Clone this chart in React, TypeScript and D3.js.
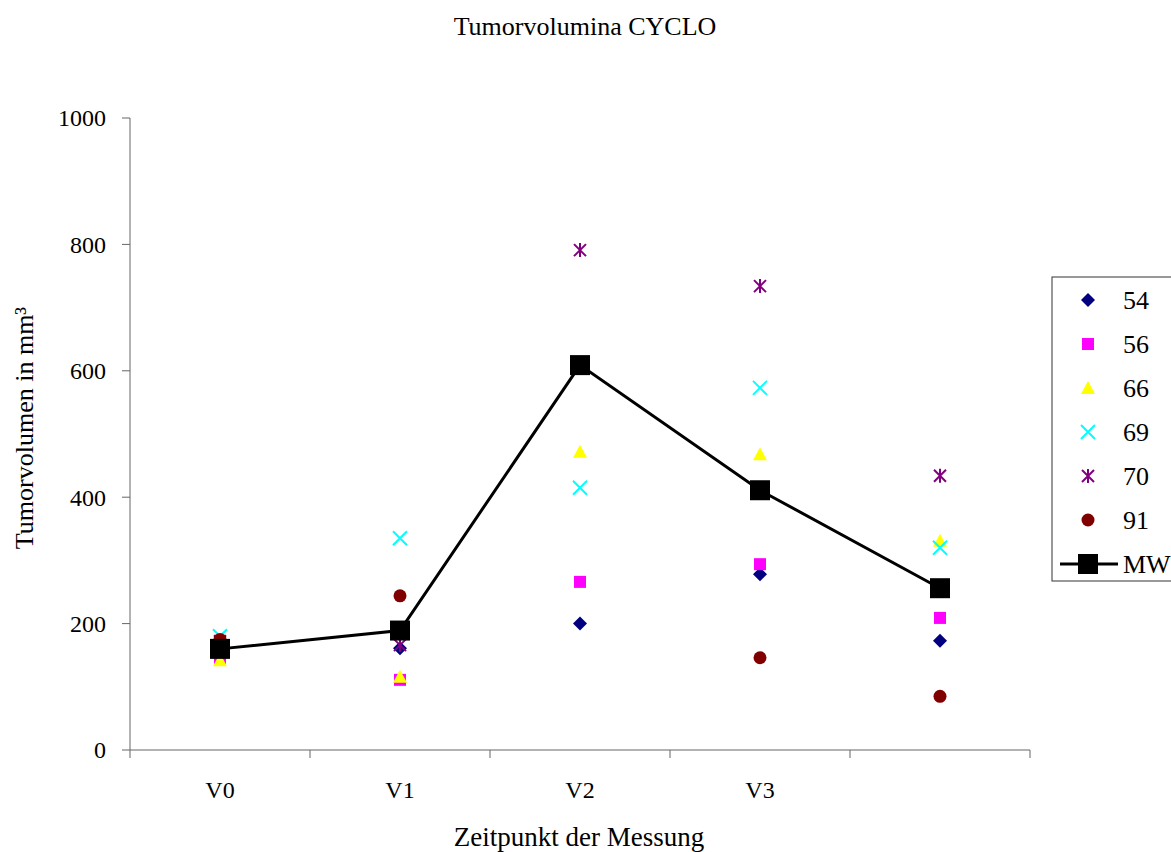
import React from "react";
import * as d3 from "d3";

const categories = ["V0", "V1", "V2", "V3", ""];
const yTicks = [0, 200, 400, 600, 800, 1000];

// single animals (null = no value)
const s54 = [148, 161, 200, 278, 173];
const s56 = [145, 111, 266, 294, 209];
const s66 = [142, 116, 472, 468, 331];
const s69 = [180, 335, 415, 573, 320];
const s70 = [172, 166, 791, 734, 434];
const s91 = [175, 244, null, 146, 85];
const mw = [160, 189, 609, 411, 256];

const series = [
  { name: "54", values: s54, color: "#000080", shape: "diamond" },
  { name: "56", values: s56, color: "#ff00ff", shape: "square" },
  { name: "66", values: s66, color: "#ffff00", shape: "triangle" },
  { name: "69", values: s69, color: "#00ffff", shape: "x" },
  { name: "70", values: s70, color: "#800080", shape: "star" },
  { name: "91", values: s91, color: "#800000", shape: "circle" },
];

const W = 1171, H = 852;
const left = 130, right = 1030, top = 118, bottom = 750;

function Marker({ shape, color, x, y }: { shape: string; color: string; x: number; y: number }) {
  const t = `translate(${x},${y})`;
  if (shape === "diamond") return <path transform={t} d="M0,-7L7,0L0,7L-7,0Z" fill={color} />;
  if (shape === "square") return <rect x={x - 6} y={y - 6} width={12} height={12} fill={color} />;
  if (shape === "triangle") return <path transform={t} d="M0,-7L7,6L-7,6Z" fill={color} />;
  if (shape === "circle") return <circle cx={x} cy={y} r={6.5} fill={color} />;
  if (shape === "x")
    return <path transform={t} d="M-7,-7L7,7M7,-7L-7,7" stroke={color} strokeWidth={2} fill="none" />;
  return (
    <path transform={t} d="M-6,-6L6,6M6,-6L-6,6M0,-7L0,7" stroke={color} strokeWidth={2} fill="none" />
  );
}

export default function App() {
  const x = d3.scaleBand().domain(categories.map((c, i) => String(i))).range([left, right]);
  const cx = (i: number) => (x(String(i)) as number) + x.bandwidth() / 2;
  const y = d3.scaleLinear().domain([0, 1000]).range([bottom, top]);
  const line = d3.line<number>().x((d, i) => cx(i)).y(d => y(d));
  const font = "'Liberation Serif', 'Times New Roman', serif";
  const legX = 1052, legY = 277, legStep = 44;

  return (
    <svg width={W} height={H} style={{ position: "absolute", left: 0, top: 0, background: "#fff" }} fontFamily={font}>
      <text x={585} y={35} textAnchor="middle" fontSize={26}>Tumorvolumina CYCLO</text>

      {/* axes */}
      <line x1={left} x2={left} y1={top} y2={bottom} stroke="#666" />
      <line x1={left} x2={right} y1={bottom} y2={bottom} stroke="#666" />
      {yTicks.map(t => (
        <g key={t}>
          <line x1={left - 8} x2={left} y1={y(t)} y2={y(t)} stroke="#666" />
          <text x={left - 24} y={y(t)} dy="0.35em" textAnchor="end" fontSize={24}>{t}</text>
        </g>
      ))}
      {categories.map((c, i) => (
        <g key={i}>
          <line x1={x(String(i))} x2={x(String(i))} y1={bottom} y2={bottom + 8} stroke="#666" />
          <text x={cx(i)} y={798} textAnchor="middle" fontSize={24}>{c}</text>
        </g>
      ))}
      <line x1={right} x2={right} y1={bottom} y2={bottom + 8} stroke="#666" />
      <text x={579} y={846} textAnchor="middle" fontSize={27}>Zeitpunkt der Messung</text>
      <text transform={`translate(33,${428}) rotate(-90)`} textAnchor="middle" fontSize={26}>
        Tumorvolumen in mm³
      </text>

      {/* single values */}
      {series.map(s =>
        s.values.map((v, i) =>
          v == null ? null : <Marker key={s.name + i} shape={s.shape} color={s.color} x={cx(i)} y={y(v)} />
        )
      )}

      {/* mean */}
      <path d={line(mw) as string} fill="none" stroke="#000" strokeWidth={3} />
      {mw.map((v, i) => (
        <rect key={i} x={cx(i) - 10} y={y(v) - 10} width={20} height={20} fill="#000" />
      ))}

      {/* legend */}
      <rect x={legX} y={legY} width={140} height={304} fill="#fff" stroke="#333" />
      {series.map((s, i) => (
        <g key={s.name}>
          <Marker shape={s.shape} color={s.color} x={1088} y={legY + 23 + i * legStep} />
          <text x={1123} y={legY + 23 + i * legStep} dy="0.35em" fontSize={26}>{s.name}</text>
        </g>
      ))}
      <line x1={1060} x2={1118} y1={legY + 23 + 6 * legStep} y2={legY + 23 + 6 * legStep} stroke="#000" strokeWidth={3} />
      <rect x={1078} y={legY + 13 + 6 * legStep} width={20} height={20} fill="#000" />
      <text x={1123} y={legY + 23 + 6 * legStep} dy="0.35em" fontSize={26}>MW</text>
    </svg>
  );
}
